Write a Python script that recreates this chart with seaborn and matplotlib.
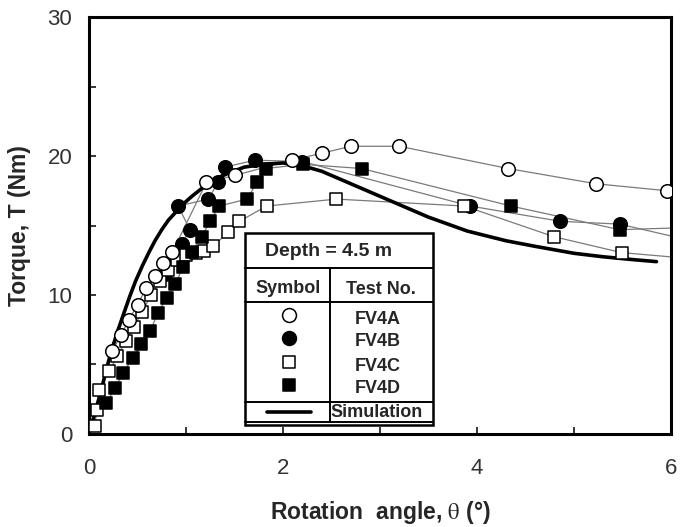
# plot.py
# Torque vs rotation angle for vane tests FV4A-FV4D at 4.5 m depth, with simulation curve.

import numpy as np
import pandas as pd
import matplotlib
matplotlib.use("Agg")
import matplotlib.pyplot as plt
from matplotlib.patches import Rectangle
import seaborn as sns

# --- data ---
fv4a_x = [0.24, 0.33, 0.41, 0.50, 0.59, 0.68, 0.76, 0.86, 1.21, 1.50, 2.09, 2.40, 2.70, 3.20, 4.32, 5.23, 5.96, 6.40]
fv4a_y = [6.0, 7.1, 8.2, 9.3, 10.5, 11.4, 12.3, 13.1, 18.1, 18.6, 19.7, 20.2, 20.7, 20.7, 19.1, 18.0, 17.5, 17.0]

fv4b_x = [0.78, 0.87, 0.955, 1.04, 0.92, 1.23, 1.33, 1.40, 1.71, 2.20, 3.93, 4.86, 5.47, 6.40]
fv4b_y = [11.5, 12.6, 13.7, 14.7, 16.4, 16.9, 18.1, 19.2, 19.7, 19.6, 16.4, 15.3, 15.1, 13.6]

fv4c_x = [0.06, 0.08, 0.10, 0.21, 0.29, 0.38, 0.46, 0.55, 0.64, 0.73, 0.81, 0.91, 1.00, 1.10, 1.19,
          1.28, 1.43, 1.55, 1.83, 2.55, 3.87, 4.79, 5.49, 6.40]
fv4c_y = [0.6, 1.7, 3.2, 4.5, 5.6, 6.7, 7.7, 8.8, 10.0, 11.0, 11.8, 12.5, 12.9, 13.0, 13.2,
          13.5, 14.5, 15.3, 16.4, 16.9, 16.4, 14.2, 13.05, 12.5]

fv4d_x = [0.175, 0.27, 0.35, 0.45, 0.54, 0.63, 0.71, 0.80, 0.89, 0.97, 1.06, 1.16, 1.25, 1.34,
          1.63, 1.73, 1.82, 2.21, 2.81, 4.35, 5.47, 6.40]
fv4d_y = [2.2, 3.3, 4.4, 5.45, 6.5, 7.4, 8.7, 9.8, 10.8, 12.0, 13.1, 14.2, 15.3, 16.4,
          16.9, 18.1, 19.1, 19.4, 19.1, 16.4, 14.7, 14.9]

sim_x = [0.04, 0.08, 0.12, 0.16, 0.20, 0.25, 0.30, 0.36, 0.42, 0.48, 0.55, 0.62, 0.68, 0.75,
         0.82, 0.90, 0.98, 1.06, 1.15, 1.25, 1.35, 1.45, 1.60, 1.80, 2.00, 2.20, 2.40, 2.60,
         2.80, 3.00, 3.20, 3.50, 3.90, 4.30, 4.60, 5.00, 5.30, 5.60, 5.85]
sim_y = [1.0, 2.0, 3.0, 4.1, 5.2, 6.4, 7.5, 8.7, 9.9, 11.0, 12.1, 13.1, 13.9, 14.7,
         15.4, 16.0, 16.6, 17.1, 17.6, 18.1, 18.5, 18.8, 19.2, 19.4, 19.5, 19.3, 18.9, 18.3,
         17.7, 17.1, 16.5, 15.6, 14.6, 13.9, 13.5, 13.0, 12.75, 12.55, 12.4]

tests = ["FV4A", "FV4B", "FV4C", "FV4D"]
x_ticks = [0, 2, 4, 6]
y_ticks = [0, 10, 20, 30]

# marker style per test: (marker, face colour, size)
styles = {
    "FV4A": ("o", "white", 95),
    "FV4B": ("o", "black", 95),
    "FV4C": ("s", "white", 82),
    "FV4D": ("s", "black", 82),
}
series = {
    "FV4A": (fv4a_x, fv4a_y),
    "FV4B": (fv4b_x, fv4b_y),
    "FV4C": (fv4c_x, fv4c_y),
    "FV4D": (fv4d_x, fv4d_y),
}

sns.set_theme(style="ticks")
plt.rcParams.update({
    "font.family": ["Liberation Sans", "DejaVu Sans"],
    "mathtext.fontset": "stix",
    "axes.linewidth": 2.2,
    "xtick.direction": "in",
    "ytick.direction": "in",
    "xtick.major.size": 5,
    "ytick.major.size": 5,
    "xtick.minor.size": 5,
    "ytick.minor.size": 5,
    "xtick.major.width": 1.3,
    "ytick.major.width": 1.3,
    "xtick.minor.width": 1.3,
    "ytick.minor.width": 1.3,
})

fig = plt.figure(figsize=(6.8, 5.27), dpi=100)
ax = fig.add_axes([0.1309, 0.1765, 0.8559, 0.7912])

# thin connecting lines first
for name in tests:
    xs, ys = series[name]
    df = pd.DataFrame({"x": xs, "y": ys})
    sns.lineplot(data=df, x="x", y="y", sort=False, color="#7a7a7a", linewidth=0.9,
                 ax=ax, zorder=1, legend=False)

# simulation curve
sim_df = pd.DataFrame({"x": sim_x, "y": sim_y})
sns.lineplot(data=sim_df, x="x", y="y", sort=False, color="black", linewidth=2.6,
             ax=ax, zorder=2, legend=False)

# markers, drawn so the open circles sit on top
for name, z in zip(["FV4B", "FV4C", "FV4D", "FV4A"], [3, 4, 5, 6]):
    xs, ys = series[name]
    mk, fc, s = styles[name]
    df = pd.DataFrame({"x": xs, "y": ys})
    sns.scatterplot(data=df, x="x", y="y", marker=mk, s=s, color=fc, edgecolor="black",
                    linewidth=1.1, ax=ax, zorder=z, legend=False)

ax.set_xlim(0, 6)
ax.set_ylim(0, 30)
ax.set_xticks(x_ticks)
ax.set_yticks(y_ticks)
ax.set_xticks([1, 3, 5], minor=True)
ax.set_yticks([5, 15, 25], minor=True)
ax.tick_params(axis="both", which="major", labelsize=16, labelcolor="#333333", pad=12)
ax.tick_params(axis="x", which="major", pad=17)
ax.tick_params(top=False, right=False)
for sp in ax.spines.values():
    sp.set_visible(True)
    sp.set_linewidth(2.2)
    sp.set_color("black")

ax.set_xlabel(r"Rotation  angle, $\mathrm{\theta}$ (°)", fontsize=16.5, fontweight="bold", labelpad=15)
ax.set_ylabel("Torque, T (Nm)", fontsize=16.5, fontweight="bold", labelpad=12)

# --- table style legend box ---
bx0, bx1, by0, by1 = 1.608, 3.55, 0.88, 14.44
ax.add_patch(Rectangle((bx0, 0.65), bx1 - bx0, by1 - 0.65, facecolor="white",
                       edgecolor="black", linewidth=1.8, zorder=10))
ax.plot([bx0, bx1], [by0, by0], color="black", lw=1.4, zorder=11)
for yy in [11.92, 9.52, 2.32]:
    ax.plot([bx0, bx1], [yy, yy], color="black", lw=1.4, zorder=11)
ax.plot([2.48, 2.48], [11.92, by0], color="black", lw=1.4, zorder=11)

tkw = dict(fontsize=13, fontweight="bold", ha="center", va="center", zorder=12)
ax.text(2.47, 13.1, "Depth = 4.5 m", fontsize=14, fontweight="bold", ha="center", va="center", zorder=12)
ax.text(2.055, 10.5, "Symbol", **tkw)
ax.text(3.01, 10.4, "Test No.", **tkw)

leg_y = [8.56, 6.91, 5.18, 3.53]
txt_y = [8.25, 6.64, 4.89, 3.29]
for name, my, ty in zip(tests, leg_y, txt_y):
    mk, fc, s = styles[name]
    ax.scatter([2.06], [my], marker=mk, s=s * 1.05, facecolor=fc, edgecolor="black",
               linewidth=1.1, zorder=12)
    ax.text(2.98, ty, name, **tkw)
ax.plot([1.83, 2.29], [1.6, 1.6], color="black", lw=2.6, zorder=12)
ax.text(2.966, 1.55, "Simulation", **tkw)

fig.savefig("out.png", dpi=100)
